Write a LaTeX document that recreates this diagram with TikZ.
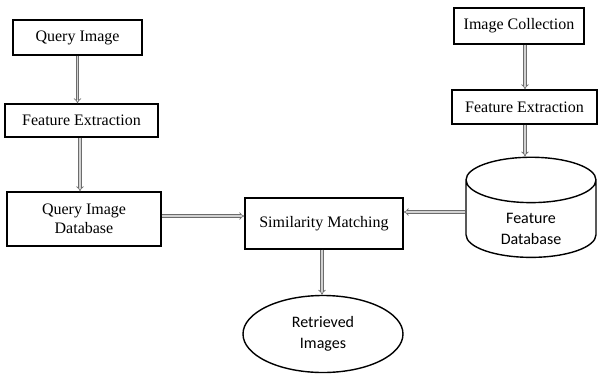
\documentclass[tikz,border=0pt]{standalone}
\usepackage{fontspec}
\setmainfont{Liberation Serif}
\newfontfamily\calibrifont{Carlito}
\usetikzlibrary{arrows.meta, shapes.geometric, positioning}

\begin{document}
\begin{tikzpicture}[
        every node/.style={font=\fontsize{16}{19}\selectfont, align=center, inner sep=0pt},
        box/.style={draw, line width=1.4pt, rectangle},
        calibri/.style={font=\calibrifont\fontsize{16}{21}\selectfont},
        flow/.style={draw=gray!85!black, double=gray!35, line width=0.7pt,
                double distance=1.8pt, -{Implies}},
        yscale=-1,
        x=1pt,
        y=1pt
    ]
    \useasboundingbox (0,0) rectangle (598,376);
    % left column
    \node[box, minimum width=129, minimum height=35] (qimg) at (77.5,37.5) {Query Image};
    \node[box, minimum width=153, minimum height=33] (fe1) at (81.5,120.5) {Feature Extraction};
    \node[box, minimum width=154, minimum height=54] (qdb) at (84,219) {Query Image\\Database};
    % right column
    \node[box, minimum width=130, minimum height=36] (coll) at (519,26) {Image Collection};
    \node[box, minimum width=145, minimum height=34] (fe2) at (524.5,107) {Feature Extraction};
    \node[draw, line width=1.4pt, cylinder, shape border rotate=90, aspect=0.75,
        minimum width=130, minimum height=96, calibri,
        label={[calibri, align=center, yshift=-10pt]center:Feature\\Database}]
        (fdb) at (531,219) {\phantom{Feature}\\\phantom{Database}};
    % middle
    \node[box, minimum width=158, minimum height=51] (sim) at (324,223.5) {Similarity Matching};
    \node[draw, line width=1.4pt, ellipse, minimum width=160, minimum height=77, calibri]
        (ret) at (323,334) {Retrieved\\Images};

    \draw[flow] (qimg.south) -- (qimg.south |- fe1.north);
    \draw[flow] (fe1.south -| 80,0) -- (80,0 |- qdb.north);
    \draw[flow] (coll.south -| 525,0) -- (525,0 |- fe2.north);
    \draw[flow] (fe2.south -| 525,0) -- (525,0 |- fdb.north);
    \draw[flow] (qdb.east |- 0,216) -- (sim.west |- 0,216);
    \draw[flow] (fdb.west |- 0,212) -- (sim.east |- 0,212);
    \draw[flow] (sim.south -| 322,0) -- (322,0 |- ret.north);
\end{tikzpicture}
\end{document}
